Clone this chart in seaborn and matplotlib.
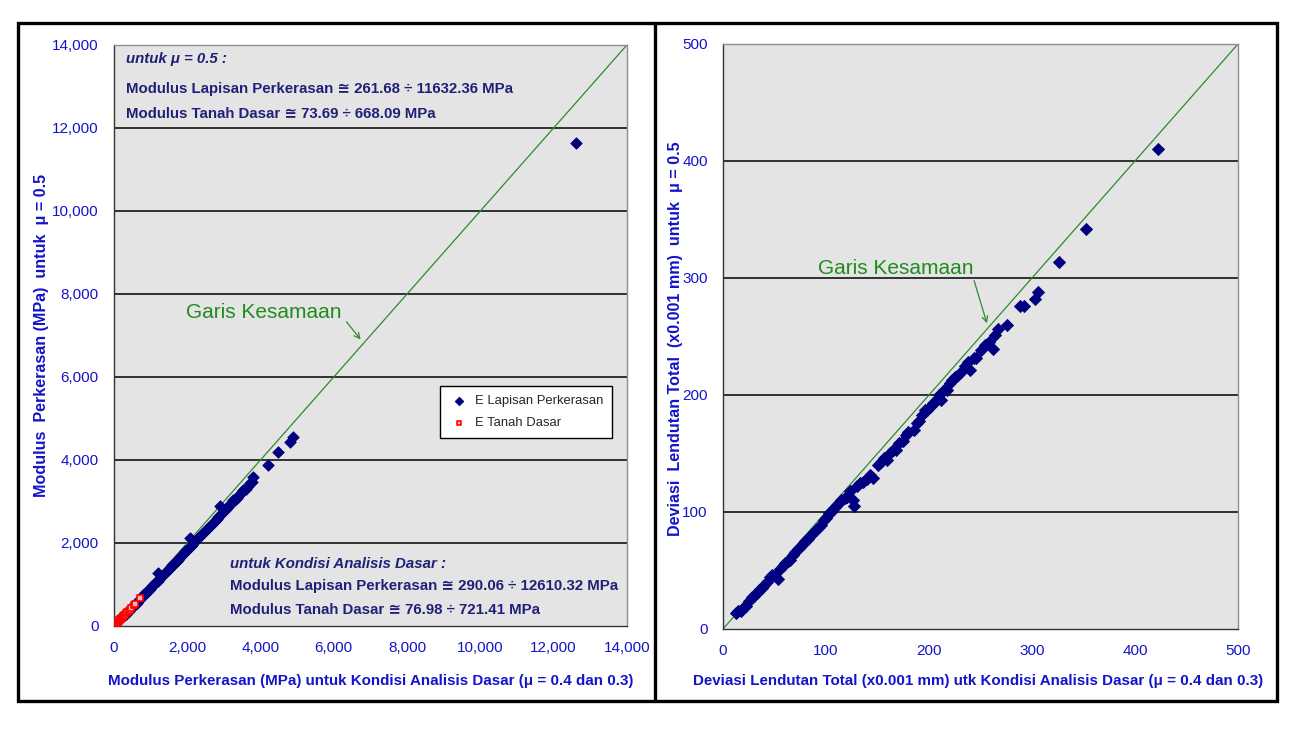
import matplotlib
matplotlib.use("Agg")
import matplotlib.pyplot as plt
from matplotlib.patches import Rectangle
from matplotlib.ticker import FuncFormatter
import seaborn as sns

# ---- left panel: modulus (MPa), basic condition (x) vs mu = 0.5 (y)
e_lapisan_x = [290, 320, 350, 380, 410, 440, 470, 500, 530, 560, 590, 620, 650, 680, 710,
               740, 770, 800, 830, 860, 890, 920, 950, 980, 1010, 1040, 1070, 1100, 1130, 1160,
               1190, 1210, 1230, 1260, 1290, 1320, 1350, 1380, 1410, 1440, 1470, 1500, 1530, 1560,
               1590, 1620, 1650, 1680, 1710, 1740, 1770, 1800, 1830, 1860, 1890, 1920, 1950, 1980,
               2010, 2040, 2070, 2100, 2130, 2160, 2190, 2220, 2250, 2280, 2320, 2360, 2400, 2440,
               2480, 2520, 2560, 2600, 2640, 2680, 2720, 2760, 2800, 2850, 2893, 2900, 2950, 3000,
               3060, 3120, 3180, 3250, 3300, 3350, 3420, 3480, 3530, 3600, 3650, 3710, 3760, 3800,
               4200, 4470, 4800, 4880, 12610]
e_lapisan_y = [262, 290, 320, 345, 372, 400, 430, 455, 480, 510, 540, 565, 590, 620, 650,
               680, 705, 735, 760, 790, 815, 845, 870, 900, 930, 955, 985, 1010, 1040, 1065,
               1095, 1270, 1130, 1155, 1180, 1210, 1240, 1265, 1295, 1320, 1350, 1380, 1400, 1430,
               1460, 1490, 1515, 1545, 1570, 1600, 1630, 1655, 1685, 1710, 1740, 1770, 1795, 1825,
               1850, 1880, 2110, 1930, 1960, 1990, 2015, 2045, 2070, 2100, 2135, 2170, 2210, 2245,
               2280, 2320, 2355, 2390, 2430, 2465, 2500, 2540, 2575, 2620, 2892, 2670, 2715, 2760,
               2815, 2870, 2930, 3040, 3040, 3080, 3150, 3200, 3280, 3310, 3380, 3440, 3470, 3600,
               3880, 4190, 4440, 4560, 11632]
e_tanah_x = [77, 90, 100, 110, 120, 130, 140, 150, 160, 175, 190, 205, 220, 240, 260,
             280, 300, 330, 360, 400, 430, 470, 560, 580, 721]
e_tanah_y = [74, 85, 95, 103, 113, 122, 130, 140, 150, 162, 176, 190, 203, 222, 240,
             258, 276, 302, 330, 368, 395, 432, 515, 540, 668]

# ---- right panel: total deflection deviation (x0.001 mm)
dev_x = [13, 15, 17, 20, 22, 25, 28, 30, 33, 35, 38, 40, 43, 46, 48, 50, 53, 55, 58, 60,
         63, 65, 68, 70, 73, 75, 78, 80, 83, 85, 88, 90, 93, 95, 98, 100, 103, 105, 108, 110,
         112, 115, 118, 120, 123, 126, 127, 130, 133, 136, 140, 143, 146, 150, 153, 156, 159,
         162, 165, 168, 171, 175, 178, 180, 185, 188, 190, 193, 196, 198, 201, 204, 207, 210,
         212, 215, 217, 220, 222, 225, 227, 230, 235, 238, 240, 244, 246, 250, 254, 258, 262,
         264, 267, 276, 288, 292, 303, 306, 326, 352, 422]
dev_y = [14, 15, 15, 19, 20, 24, 27, 28, 31, 33, 35, 38, 40, 44, 46, 45, 43, 51, 54, 56,
         58, 59, 63, 66, 68, 70, 73, 75, 77, 80, 83, 85, 87, 89, 93, 95, 99, 100, 103, 105,
         107, 110, 112, 113, 118, 110, 105, 122, 125, 126, 128, 132, 129, 140, 143, 146, 144,
         150, 153, 153, 159, 161, 166, 168, 170, 176, 178, 183, 187, 187, 190, 193, 195, 200,
         196, 204, 204, 210, 213, 215, 216, 219, 225, 228, 221, 232, 232, 238, 243, 245, 239,
         251, 256, 260, 276, 276, 282, 288, 314, 342, 410]

left_ticks = [0, 2000, 4000, 6000, 8000, 10000, 12000, 14000]
right_ticks = [0, 100, 200, 300, 400, 500]

NAVY = "#000080"
BLUE = "#1414C8"
TEXT_NAVY = "#202078"
GREEN = "#1E8C1E"
LINE_GREEN = "#2E8B2E"
BG = "#E4E4E4"
FONT = ["Liberation Sans", "DejaVu Sans"]

sns.set_style("white")
plt.rcParams["font.family"] = FONT

fig = plt.figure(figsize=(12.95, 7.3), dpi=100)
ax1 = fig.add_axes([0.0880, 0.1425, 0.3961, 0.7959])
ax2 = fig.add_axes([0.5583, 0.1384, 0.3977, 0.8014])


def style_axes(ax, ticks):
    lim = ticks[-1]
    ax.set_xlim(0, lim)
    ax.set_ylim(0, lim)
    ax.set_facecolor(BG)
    ax.set_xticks(ticks)
    ax.set_yticks(ticks)
    ax.xaxis.set_major_formatter(FuncFormatter(lambda v, p: f"{int(v):,}"))
    ax.yaxis.set_major_formatter(FuncFormatter(lambda v, p: f"{int(v):,}"))
    ax.tick_params(axis="both", direction="out", length=5, width=1, color="#333333",
                   labelcolor=BLUE, labelsize=11, pad=6)
    ax.set_axisbelow(True)
    for t in ticks[1:-1]:
        ax.axhline(t, color="black", lw=1.1, zorder=0.5)
    for side in ["top", "right"]:
        ax.spines[side].set_color("#909090")
        ax.spines[side].set_linewidth(1)
    for side in ["bottom", "left"]:
        ax.spines[side].set_color("#333333")
        ax.spines[side].set_linewidth(1)
    # line of equality
    sns.lineplot(x=[0, lim], y=[0, lim], color=LINE_GREEN, lw=0.9, ax=ax, zorder=1)


# ---------------- left panel
style_axes(ax1, left_ticks)
sns.scatterplot(x=e_lapisan_x, y=e_lapisan_y, marker="D", s=34, color=NAVY,
                edgecolor=NAVY, linewidth=0.6, ax=ax1, zorder=3, label="E Lapisan Perkerasan")
sns.scatterplot(x=e_tanah_x, y=e_tanah_y, marker="s", s=14, color="#FFB0B0",
                edgecolor="#FF0000", linewidth=1.2, ax=ax1, zorder=4, label="E Tanah Dasar")

leg = ax1.legend(loc="upper left", bbox_to_anchor=(0.635, 0.413), borderaxespad=0,
                 frameon=True, fancybox=False, edgecolor="black", facecolor="white",
                 framealpha=1, handletextpad=0.4, handlelength=1.6, borderpad=0.7,
                 labelspacing=0.75, markerscale=0.75, fontsize=9.4)
leg.get_frame().set_linewidth(1)

ann = dict(transform=ax1.transAxes, fontsize=10.8, fontweight="bold", color=TEXT_NAVY, va="top")
ax1.text(0.024, 0.988, "untuk μ = 0.5 :", style="italic", **ann)
ax1.text(0.024, 0.936, "Modulus Lapisan Perkerasan ≅ 261.68 ÷ 11632.36 MPa", **ann)
ax1.text(0.024, 0.893, "Modulus Tanah Dasar ≅ 73.69 ÷ 668.09 MPa", **ann)
ax1.text(0.226, 0.119, "untuk Kondisi Analisis Dasar :", style="italic", **ann)
ax1.text(0.226, 0.080, "Modulus Lapisan Perkerasan ≅ 290.06 ÷ 12610.32 MPa", **ann)
ax1.text(0.226, 0.040, "Modulus Tanah Dasar ≅ 76.98 ÷ 721.41 MPa", **ann)

ax1.text(1965, 7560, "Garis Kesamaan", color=GREEN, fontsize=15, va="center")
ax1.annotate("", xy=(6780, 6850), xytext=(6300, 7380),
             arrowprops=dict(arrowstyle="->", color=LINE_GREEN, lw=0.9))

xlab = dict(fontsize=10.9, fontweight="bold", color=BLUE)
ylab = dict(fontsize=11.6, fontweight="bold", color=BLUE)
ax1.set_xlabel("Modulus Perkerasan (MPa) untuk Kondisi Analisis Dasar (μ = 0.4 dan 0.3)", **xlab)
ax1.set_ylabel("Modulus  Perkerasan (MPa)  untuk  μ = 0.5", **ylab)
ax1.xaxis.set_label_coords(0.50, -0.083)
ax1.yaxis.set_label_coords(-0.127, 0.50)

# ---------------- right panel
style_axes(ax2, right_ticks)
sns.scatterplot(x=dev_x, y=dev_y, marker="D", s=38, color=NAVY, edgecolor=NAVY,
                linewidth=0.6, ax=ax2, zorder=3, legend=False)

ax2.text(92, 308, "Garis Kesamaan", color=GREEN, fontsize=15, va="center")
ax2.annotate("", xy=(257, 259), xytext=(243, 300),
             arrowprops=dict(arrowstyle="->", color=LINE_GREEN, lw=0.9))

ax2.set_xlabel("Deviasi Lendutan Total (x0.001 mm) utk Kondisi Analisis Dasar (μ = 0.4 dan 0.3)",
               **xlab)
ax2.set_ylabel("Deviasi  Lendutan Total  (x0.001 mm)  untuk  μ = 0.5", **ylab)
ax2.xaxis.set_label_coords(0.496, -0.077)
ax2.yaxis.set_label_coords(-0.078, 0.496)

# ---------------- outer frames
fig.add_artist(Rectangle((0.0139, 0.0397), 0.9722, 0.9288, transform=fig.transFigure,
                         fill=False, ec="black", lw=2.4))
fig.add_artist(plt.Line2D([0.5058, 0.5058], [0.0397, 0.9685], transform=fig.transFigure,
                          color="black", lw=2.4))

fig.savefig("out.png", dpi=100, facecolor="white")
